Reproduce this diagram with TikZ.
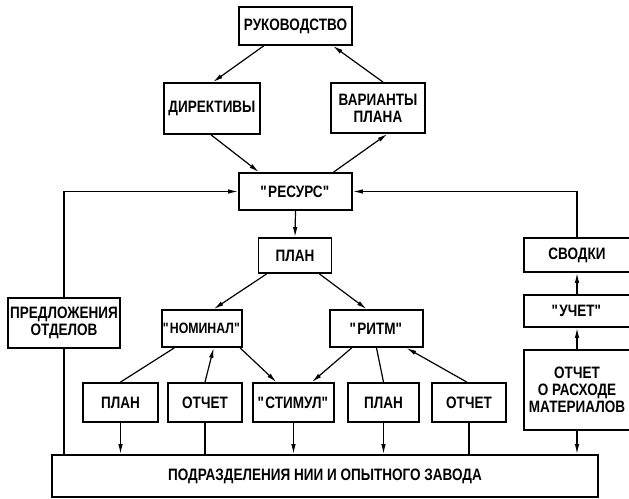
\documentclass[tikz,border=0pt]{standalone}
\usepackage{fontspec}
\setmainfont{Liberation Sans}[FakeStretch=0.82]
\usepackage{tikz}
\usetikzlibrary{arrows.meta,positioning,calc}
\newcommand{\qt}[1]{\textquotedbl#1\textquotedbl}

\begin{document}
\begin{tikzpicture}[x=1pt,y=-1pt,
  box/.style={rectangle,draw,line width=1.8pt,inner sep=0.5pt,align=center,font=\fontsize{16.5pt}{17pt}\selectfont\bfseries},
  arrow/.style={-{Latex[length=10pt,width=4.5pt]},line width=1.2pt},
  line/.style={line width=1.2pt}]
\useasboundingbox (0,0) rectangle (629,498);
\node[box,minimum width=113pt,minimum height=38pt] (ruk) at (295.5,26) {РУКОВОДСТВО};
\node[box,minimum width=96pt,minimum height=51pt] (dir) at (212,108.5) {ДИРЕКТИВЫ};
\node[box,minimum width=94pt,minimum height=50pt] (var) at (378,108) {ВАРИАНТЫ\\ПЛАНА};
\node[box,minimum width=113pt,minimum height=37pt] (res) at (295.5,191.5) {\qt{РЕСУРС}};
\node[box,minimum width=73pt,minimum height=35pt] (plan) at (295,255.5) {ПЛАН};
\node[box,minimum width=106pt,minimum height=34pt] (svod) at (577,255) {СВОДКИ};
\node[box,minimum width=106pt,minimum height=32pt] (uchet) at (577,311) {\qt{УЧЕТ}};
\node[box,minimum width=106pt,minimum height=80pt] (otchm) at (577,390) {ОТЧЕТ\\О РАСХОДЕ\\МАТЕРИАЛОВ};
\node[box,minimum width=112pt,minimum height=50pt] (pred) at (64,323) {ПРЕДЛОЖЕНИЯ\\ОТДЕЛОВ};
\node[box,minimum width=76pt,minimum height=37pt,font=\fontsize{15pt}{16pt}\selectfont\bfseries] (nom) at (202,328.5) {\qt{НОМИНАЛ}};
\node[box,minimum width=93pt,minimum height=37pt] (ritm) at (376.5,328.5) {\qt{РИТМ}};
\node[box,minimum width=75pt,minimum height=39pt] (plan1) at (120.5,402.5) {ПЛАН};
\node[box,minimum width=74pt,minimum height=39pt] (otch1) at (205,402.5) {ОТЧЕТ};
\node[box,minimum width=81pt,minimum height=39pt] (stim) at (293.5,402.5) {\qt{СТИМУЛ}};
\node[box,minimum width=71pt,minimum height=39pt] (plan2) at (383.5,402.5) {ПЛАН};
\node[box,minimum width=74pt,minimum height=39pt] (otch2) at (469,402.5) {ОТЧЕТ};
\node[box,minimum width=546pt,minimum height=42pt] (podr) at (325,476) {ПОДРАЗДЕЛЕНИЯ НИИ И ОПЫТНОГО ЗАВОДА};
\draw[arrow] (ruk.-148)--(dir.88); \draw[arrow] (var.79)--(ruk.-28);
\draw[arrow] (dir.-92)--(res.152); \draw[arrow] (res.27)--(var.-70);
\draw[arrow] (res.south)--(plan.north);
\draw[arrow] (plan.-147)--(nom.59); \draw[arrow] (plan.-37)--(ritm.117);
\draw[line] (nom.-145)--(plan1.north); \draw[arrow] (otch1.north)--(nom.-59); \draw[arrow] (nom.-27)--(stim.130);
\draw[arrow] (ritm.-142)--(stim.48); \draw[line] (ritm.-90)--(plan2.north); \draw[arrow] (otch2.96)--(ritm.-33);
\draw[arrow] (plan1.south)--(plan1.south |- podr.north); \draw[line] (otch1.south)--(otch1.south |- podr.north);
\draw[arrow] (stim.south)--(stim.south |- podr.north); \draw[arrow] (plan2.south)--(plan2.south |- podr.north);
\draw[line] (otch2.south)--(otch2.south |- podr.north);
\draw[line] (podr.north -| pred.south)--(pred.south); \draw[arrow] (pred.north) |- (res.west);
\draw[arrow] (otchm.south)--(otchm.south |- podr.north);
\draw[arrow] (otchm)--(uchet); \draw[arrow] (uchet)--(svod); \draw[arrow] (svod.north) |- (res.east);
\end{tikzpicture}
\end{document}
